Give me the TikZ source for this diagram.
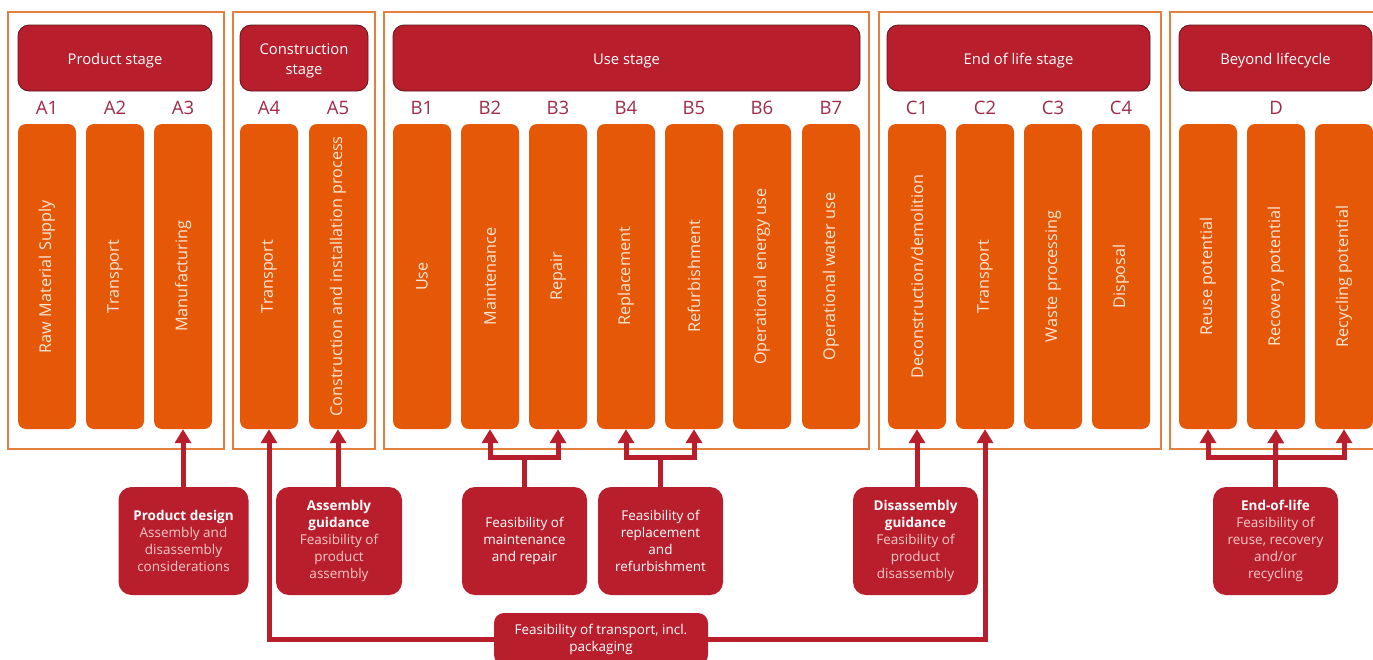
\documentclass[tikz,border=0pt]{standalone}
\usepackage{fontspec}
\setmainfont{Open Sans}
\usetikzlibrary{arrows.meta}
\definecolor{dred}{RGB}{184,30,44}
\definecolor{orng}{RGB}{229,88,8}
\definecolor{frm}{RGB}{226,128,64}
\definecolor{lbl}{RGB}{160,42,72}
\definecolor{cream}{RGB}{253,232,214}
\definecolor{pinksub}{RGB}{247,200,200}
\definecolor{hline}{RGB}{92,22,28}
\begin{document}
\begin{tikzpicture}[x=1pt,y=-1pt,
  frame/.style={draw=frm,line width=1.1pt},
  hbox/.style={draw=hline,line width=0.8pt,fill=dred,rounded corners=11pt,minimum height=66pt,inner sep=0pt,text=white,font=\fontsize{14.8}{20}\selectfont,align=center},
  hone/.style={hbox,text height=14.5pt,text depth=1.5pt},
  obox/.style={fill=orng,rounded corners=8pt,minimum width=58pt,minimum height=305pt,inner sep=0pt,text=cream,font=\fontsize{16.2}{18}\selectfont},
  lab/.style={text=lbl,font=\fontsize{18.5}{20}\selectfont,inner sep=0pt},
  pbox/.style={fill=dred,rounded corners=13pt,minimum height=108pt,inner sep=0pt,text=white,font=\fontsize{13.5}{17}\selectfont,align=center},
  conn/.style={draw=dred,line width=5pt},
  arr/.style={conn,-{Triangle[width=16pt,length=14pt]}},
]
\useasboundingbox (0,0) rectangle (1373,659);
\clip (0,0) rectangle (1373,659);

% stage frames
\draw[frame] (8,12) rectangle (224,449);
\draw[frame] (233,12) rectangle (375,449);
\draw[frame] (384,12) rectangle (869,449);
\draw[frame] (879,12) rectangle (1161,449);
\draw[frame] (1170,12) rectangle (1390,449);

% headers
\node[hone,minimum width=194pt] (h1) at (115,58) {Product stage};
\node[hbox,minimum width=128pt] (h2) at (304,58) {\rule{0pt}{16pt}Construction\\stage};
\node[hone,minimum width=467pt] (h3) at (626.5,58) {Use stage};
\node[hone,minimum width=263pt] (h4) at (1018.5,58) {End of life stage};
\node[hone,minimum width=193pt] (h5) at (1275.5,58) {Beyond lifecycle};

% module labels
\node[lab] (la1) at (47,108) {A1};
\node[lab] (la2) at (115,108) {A2};
\node[lab] (la3) at (183,108) {A3};
\node[lab] (la4) at (269,108) {A4};
\node[lab] (la5) at (338,108) {A5};
\node[lab] (lb1) at (422,108) {B1};
\node[lab] (lb2) at (490,108) {B2};
\node[lab] (lb3) at (558,108) {B3};
\node[lab] (lb4) at (626,108) {B4};
\node[lab] (lb5) at (694,108) {B5};
\node[lab] (lb6) at (762,108) {B6};
\node[lab] (lb7) at (831,108) {B7};
\node[lab] (lc1) at (917,108) {C1};
\node[lab] (lc2) at (985,108) {C2};
\node[lab] (lc3) at (1053,108) {C3};
\node[lab] (lc4) at (1121,108) {C4};
\node[lab] (ld) at (1276,108) {D};

% module boxes
\node[obox] (a1) at (47,276.5) {\rotatebox{90}{Raw Material Supply}};
\node[obox] (a2) at (115,276.5) {\rotatebox{90}{Transport}};
\node[obox] (a3) at (183,276.5) {\rotatebox{90}{Manufacturing}};
\node[obox] (a4) at (269,276.5) {\rotatebox{90}{Transport}};
\node[obox] (a5) at (338,276.5) {\rotatebox{90}{Construction and installation process}};
\node[obox] (b1) at (422,276.5) {\rotatebox{90}{Use}};
\node[obox] (b2) at (490,276.5) {\rotatebox{90}{Maintenance}};
\node[obox] (b3) at (558,276.5) {\rotatebox{90}{Repair}};
\node[obox] (b4) at (626,276.5) {\rotatebox{90}{Replacement}};
\node[obox] (b5) at (694,276.5) {\rotatebox{90}{Refurbishment}};
\node[obox] (b6) at (762,276.5) {\rotatebox{90}{Operational energy use}};
\node[obox] (b7) at (831,276.5) {\rotatebox{90}{Operational water use}};
\node[obox] (c1) at (917,276.5) {\rotatebox{90}{Deconstruction/demolition}};
\node[obox] (c2) at (985,276.5) {\rotatebox{90}{Transport}};
\node[obox] (c3) at (1053,276.5) {\rotatebox{90}{Waste processing}};
\node[obox] (c4) at (1121,276.5) {\rotatebox{90}{Disposal}};
\node[obox] (d1) at (1208,276.5) {\rotatebox{90}{Reuse potential}};
\node[obox] (d2) at (1276,276.5) {\rotatebox{90}{Recovery potential}};
\node[obox] (d3) at (1344,276.5) {\rotatebox{90}{Recycling potential}};

% design aspect boxes
\node[pbox,minimum width=130pt] (p1) at (183.5,541) {\textbf{Product design}\\\textcolor{pinksub}{Assembly and}\\\textcolor{pinksub}{disassembly}\\\textcolor{pinksub}{considerations}};
\node[pbox,minimum width=126pt] (p2) at (339,541) {\textbf{Assembly}\\\textbf{guidance}\\\textcolor{pinksub}{Feasibility of}\\\textcolor{pinksub}{product}\\\textcolor{pinksub}{assembly}};
\node[pbox,minimum width=125pt] (p3) at (524.5,541) {Feasibility of\\maintenance\\and repair};
\node[pbox,minimum width=125pt] (p4) at (660.5,541) {Feasibility of\\replacement\\and\\refurbishment};
\node[pbox,minimum width=125pt] (p5) at (915.5,541) {\textbf{Disassembly}\\\textbf{guidance}\\\textcolor{pinksub}{Feasibility of}\\\textcolor{pinksub}{product}\\\textcolor{pinksub}{disassembly}};
\node[pbox,minimum width=125pt] (p6) at (1275.5,541) {\textbf{End-of-life}\\\textcolor{pinksub}{Feasibility of}\\\textcolor{pinksub}{reuse, recovery}\\\textcolor{pinksub}{and/or}\\\textcolor{pinksub}{recycling}};
\node[pbox,minimum width=214pt,minimum height=52pt,rounded corners=10pt] (p7) at (601,639) {Feasibility of transport, incl.\\packaging};

% junction bars
\coordinate (bar) at (0,457);

% connectors
\draw[arr] (p1.north -| a3.south) -- (a3.south);
\draw[arr] (p2.north -| a5.south) -- (a5.south);
\draw[arr] (p3.north) -- (p3.north |- bar) -| (b2.south);
\draw[arr] (p3.north |- bar) -| (b3.south);
\draw[arr] (p4.north) -- (p4.north |- bar) -| (b4.south);
\draw[arr] (p4.north |- bar) -| (b5.south);
\draw[arr] (p5.north -| c1.south) -- (c1.south);
\draw[arr] (p6.north) -- (p6.north |- bar) -| (d1.south);
\draw[arr] (p6.north |- bar) -| (d3.south);
\draw[arr] (p6.north |- bar) -- (d2.south);
\draw[arr] (p7.west) -| (a4.south);
\draw[arr] (p7.east) -| (c2.south);
\end{tikzpicture}
\end{document}
